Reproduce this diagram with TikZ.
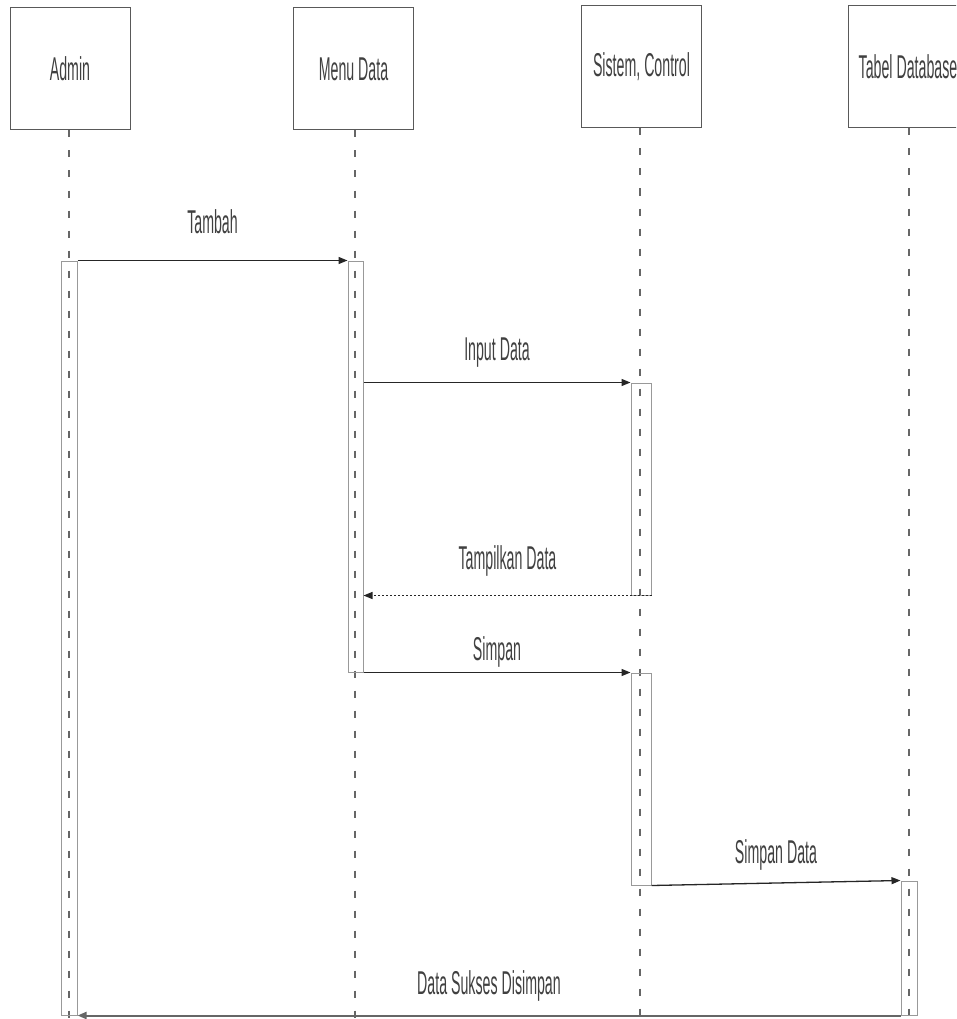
\documentclass[tikz,border=0pt]{standalone}
\usepackage{fontspec}
\usepackage{tikz}
\usetikzlibrary{arrows.meta}
\newfontfamily\seqfont{Liberation Sans}[FakeStretch=0.43]

\tikzset{
  actor/.style={draw=black!65, line width=1pt, minimum width=120pt, minimum height=122pt, inner sep=0pt,
    font=\seqfont\fontsize{33}{38}\selectfont, text=black!75},
  lifeline/.style={draw=black!60, line width=1.3pt, dash pattern=on 7pt off 13pt},
  actbar/.style={draw=black!40, line width=1pt, minimum width=16pt, inner sep=0pt},
  msg/.style={draw=black!85, line width=1.3pt, -{Triangle[length=9pt,width=7pt]}},
  msgtext/.style={font=\seqfont\fontsize{33}{38}\selectfont, text=black!75, inner sep=0pt},
}

\begin{document}
\begin{tikzpicture}[x=1pt,y=-1pt]
            \useasboundingbox (0,0) rectangle (956,1019);
            \clip (0,0) rectangle (956,1019);
            % objects
            \node[actor] (admin) at (70,69) {Admin};
            \node[actor] (menu) at (353.5,69) {Menu Data};
            \node[actor] (sistem) at (641.5,67) {Sistem, Control};
            \node[actor] (tabel) at (908,67) {Tabel Database};
            % lifelines
            \coordinate (endA) at (69,1019);
            \coordinate (endM) at (355,1019);
            \coordinate (endS) at (640,1019);
            \coordinate (endT) at (909,1019);
            \draw[lifeline] (admin.south -| endA) -- (endA);
            \draw[lifeline] (menu.south -| endM) -- (endM);
            \draw[lifeline] (sistem.south -| endS) -- (endS);
            \draw[lifeline] (tabel.south -| endT) -- (endT);
            % activations
            \node[actbar, minimum height=754pt] (actA) at (69,638) {};
            \node[actbar, minimum width=15pt, minimum height=411pt] (actM) at (355.5,466.5) {};
            \node[actbar, minimum width=20pt, minimum height=212pt] (actS1) at (641,489) {};
            \node[actbar, minimum width=20pt, minimum height=212pt] (actS2) at (641,779) {};
            \node[actbar, minimum height=134pt] (actT) at (909,948) {};
            % messages
            \draw[msg] (actA.north east) -- node[msgtext, midway, yshift=39pt] {Tambah} (actM.north west);
            \draw[msg] (actM.east |- actS1.north) -- node[msgtext, midway, yshift=30pt] {Input Data} (actS1.north west);
            \draw[msg, dash pattern=on 2pt off 2pt] (actS1.south east) -- node[msgtext, midway, yshift=35pt] {Tampilkan Data} (actM.east |- actS1.south);
            \draw[msg] (actM.south east) -- node[msgtext, midway, yshift=21pt] {Simpan} (actS2.north west);
            \draw[msg] (actS2.south east) -- node[msgtext, midway, yshift=28pt] {Simpan Data} (actT.north west);
            \draw[msg, draw=black!60, line width=2pt] (actT.south west) -- node[msgtext, midway, yshift=30pt] {Data Sukses Disimpan} (actA.south east);
        \end{tikzpicture}
\end{document}
